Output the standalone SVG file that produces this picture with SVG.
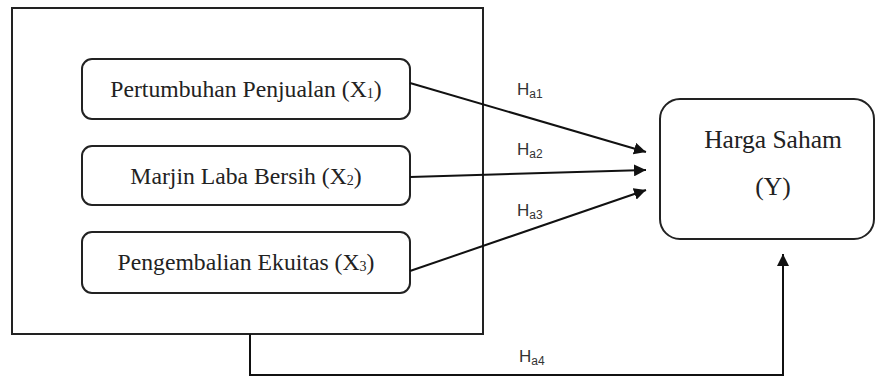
<svg xmlns="http://www.w3.org/2000/svg" width="875" height="378" viewBox="0 0 875 378">
<style>
.box{fill:#fff;stroke:#222;stroke-width:2}
.t{font-family:"Liberation Serif","Times New Roman",serif;font-size:23.7px;fill:#222;text-anchor:middle}
.ty{font-size:25.5px}
.h{font-family:"Liberation Sans",Arial,sans-serif;font-size:17px;fill:#333}
.sub{font-size:14px}
.hs{font-size:12px}
.ln{fill:none;stroke:#111;stroke-width:2}
</style>
<defs>
<marker id="ah" viewBox="0 0 10 10" refX="10" refY="5" markerWidth="6" markerHeight="6" markerUnits="strokeWidth" orient="auto">
<path d="M0,0 L10,5 L0,10 z" fill="#111"/>
</marker>
</defs>
<g id="group-x">
<rect x="12" y="8" width="471" height="326" fill="none" stroke="#222" stroke-width="2"/>
</g>
<g id="x1">
<rect class="box" x="82" y="59" width="328" height="60" rx="10"/>
<text class="t" x="246" y="97">Pertumbuhan Penjualan (X<tspan class="sub" dy="1">1</tspan><tspan dy="-1">)</tspan></text>
</g>
<g id="x2">
<rect class="box" x="82" y="146" width="328" height="59" rx="10"/>
<text class="t" x="246" y="184">Marjin Laba Bersih (X<tspan class="sub" dy="1">2</tspan><tspan dy="-1">)</tspan></text>
</g>
<g id="x3">
<rect class="box" x="82" y="232" width="328" height="61" rx="10"/>
<text class="t" x="246" y="270">Pengembalian Ekuitas (X<tspan class="sub" dy="1">3</tspan><tspan dy="-1">)</tspan></text>
</g>
<g id="y">
<rect class="box" x="660" y="99" width="214" height="140" rx="20"/>
<text class="t ty" x="773" y="148">Harga Saham</text>
<text class="t ty" x="773" y="195">(Y)</text>
</g>
<g id="connectors">
<line class="ln" x1="410" y1="83" x2="646" y2="152" marker-end="url(#ah)"/>
<line class="ln" x1="410" y1="177" x2="646" y2="170" marker-end="url(#ah)"/>
<line class="ln" x1="410" y1="271" x2="646" y2="190" marker-end="url(#ah)"/>
<polyline class="ln" points="250,334 250,375 783,375 783,254" marker-end="url(#ah)"/>
</g>
<g id="labels">
<text class="h" x="517" y="95">H<tspan class="hs" dy="3">a1</tspan></text>
<text class="h" x="517" y="155">H<tspan class="hs" dy="3">a2</tspan></text>
<text class="h" x="517" y="216">H<tspan class="hs" dy="3">a3</tspan></text>
<text class="h" x="519" y="362">H<tspan class="hs" dy="3">a4</tspan></text>
</g>
</svg>
